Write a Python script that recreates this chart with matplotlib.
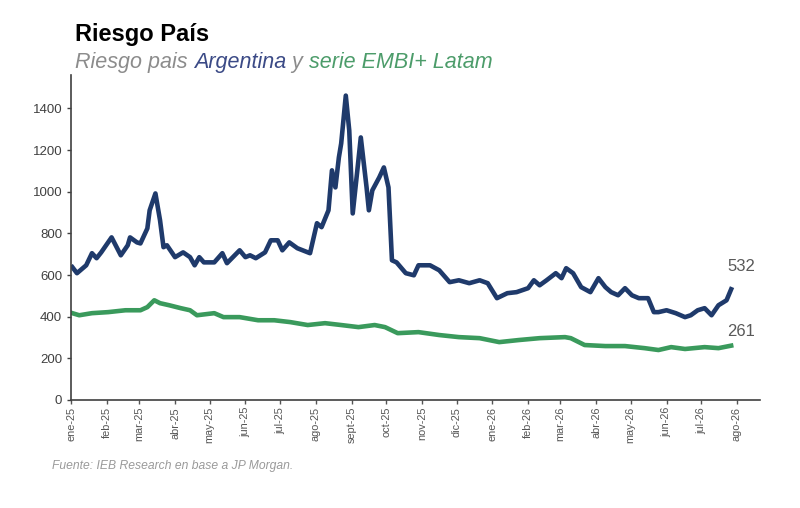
import matplotlib
matplotlib.use('Agg')
import matplotlib.pyplot as plt
import pandas as pd

# ── DATA ──────────────────────────────────────────────────────────────────────
ARG_DATES = [
    "2025-01-02", "2025-01-06", "2025-01-14", "2025-01-19", "2025-01-23", "2025-01-27",
    "2025-02-05", "2025-02-13", "2025-02-19", "2025-02-21", "2025-02-27", "2025-03-02",
    "2025-03-08", "2025-03-10", "2025-03-15", "2025-03-19", "2025-03-22", "2025-03-25",
    "2025-04-01", "2025-04-08", "2025-04-14", "2025-04-18", "2025-04-22", "2025-04-26",
    "2025-05-05", "2025-05-12", "2025-05-16", "2025-05-27", "2025-06-01", "2025-06-05",
    "2025-06-10", "2025-06-18", "2025-06-23", "2025-06-29", "2025-07-03", "2025-07-09",
    "2025-07-16", "2025-07-27", "2025-08-02", "2025-08-06", "2025-08-12", "2025-08-15",
    "2025-08-18", "2025-08-21", "2025-08-23", "2025-08-27", "2025-08-30", "2025-09-02",
    "2025-09-06", "2025-09-09", "2025-09-14", "2025-09-16", "2025-09-19", "2025-09-25",
    "2025-09-29", "2025-10-03", "2025-10-06", "2025-10-10", "2025-10-18", "2025-10-25",
    "2025-10-29", "2025-11-08", "2025-11-16", "2025-11-25", "2025-12-03", "2025-12-12",
    "2025-12-21", "2025-12-28", "2026-01-05", "2026-01-14", "2026-01-22", "2026-02-01",
    "2026-02-06", "2026-02-11", "2026-02-17", "2026-02-25", "2026-03-02", "2026-03-06",
    "2026-03-12", "2026-03-19", "2026-03-27", "2026-04-03", "2026-04-09", "2026-04-14",
    "2026-04-20", "2026-04-26", "2026-05-02", "2026-05-08", "2026-05-16", "2026-05-21",
    "2026-05-25", "2026-06-01", "2026-06-09", "2026-06-17", "2026-06-22", "2026-06-28",
    "2026-07-04", "2026-07-10", "2026-07-16", "2026-07-23", "2026-07-27",
]
ARG_VALUES = [
    638, 609, 647, 705, 681, 709,
    781, 695, 743, 781, 757, 752,
    824, 911, 992, 863, 734, 743,
    686, 709, 686, 647, 686, 661,
    661, 705, 657, 719, 686, 695,
    681, 709, 767, 767, 719, 757,
    729, 705, 849, 830, 911, 1103,
    1021, 1165, 1232, 1462, 1294, 896,
    1103, 1261, 1021, 911, 1007, 1069,
    1117, 1021, 671, 661, 609, 599,
    647, 647, 623, 566, 575, 561,
    575, 561, 489, 513, 518, 537,
    575, 551, 575, 609, 585, 633,
    609, 542, 518, 585, 542, 518,
    503, 537, 503, 489, 489, 422,
    422, 431, 417, 398, 407, 431,
    441, 407, 455, 479, 532,
]

EMBI_DATES = [
    "2025-01-02", "2025-01-08", "2025-01-19", "2025-02-02", "2025-02-17", "2025-03-02",
    "2025-03-08", "2025-03-14", "2025-03-19", "2025-03-27", "2025-04-06", "2025-04-14",
    "2025-04-20", "2025-05-05", "2025-05-13", "2025-05-27", "2025-06-12", "2025-06-26",
    "2025-07-10", "2025-07-25", "2025-08-09", "2025-08-23", "2025-09-07", "2025-09-21",
    "2025-09-30", "2025-10-11", "2025-10-29", "2025-11-16", "2025-12-03", "2025-12-21",
    "2026-01-07", "2026-01-24", "2026-02-11", "2026-03-05", "2026-03-10", "2026-03-22",
    "2026-04-09", "2026-04-26", "2026-05-13", "2026-05-25", "2026-06-05", "2026-06-17",
    "2026-07-04", "2026-07-16", "2026-07-27",
]
EMBI_VALUES = [
    417, 407, 417, 422, 431, 431,
    446, 479, 465, 455, 441, 431,
    407, 417, 398, 398, 383, 383,
    374, 360, 369, 360, 350, 360,
    350, 321, 326, 312, 302, 297,
    278, 288, 297, 302, 297, 264,
    259, 259, 249, 240, 254, 245,
    254, 249, 261,
]

MONTH_LABELS = [
    "ene-25", "feb-25", "mar-25", "abr-25", "may-25", "jun-25", "jul-25",
    "ago-25", "sept-25", "oct-25", "nov-25", "dic-25", "ene-26", "feb-26",
    "mar-26", "abr-26", "may-26", "jun-26", "jul-26", "ago-26",
]

# ── STYLE ─────────────────────────────────────────────────────────────────────
NAVY = "#1f3a6b"
GREEN = "#3a9a5c"
GREY_TXT = "#595959"

plt.rcParams['font.family'] = ['Liberation Sans', 'DejaVu Sans']

fig = plt.figure(figsize=(8, 5.08), dpi=100)
ax = fig.add_axes([0.089, 0.2126, 0.861, 0.6394])

arg_x = pd.to_datetime(ARG_DATES)
embi_x = pd.to_datetime(EMBI_DATES)

ax.plot(embi_x, EMBI_VALUES, color=GREEN, linewidth=3.3, solid_joinstyle="round")
ax.plot(arg_x, ARG_VALUES, color=NAVY, linewidth=3.3, solid_joinstyle="round")

# end-of-series labels
ax.annotate(f"{ARG_VALUES[-1]}", (arg_x[-1], ARG_VALUES[-1]), xytext=(-3, 11),
            textcoords="offset points", fontsize=12, color=GREY_TXT, va="bottom")
ax.annotate(f"{EMBI_VALUES[-1]}", (embi_x[-1], EMBI_VALUES[-1]), xytext=(-3, 5),
            textcoords="offset points", fontsize=12, color=GREY_TXT, va="bottom")

ax.set_ylim(0, 1560)
ax.set_yticks(range(0, 1401, 200))
ax.set_xlim(pd.Timestamp("2025-01-01"), pd.Timestamp("2026-08-21"))
month_ticks = pd.date_range("2025-01-01", periods=len(MONTH_LABELS), freq="MS")
ax.set_xticks(month_ticks)
ax.set_xticklabels(MONTH_LABELS, rotation=90)

ax.tick_params(axis="y", labelsize=9.5, colors="#404040", length=3, width=1)
ax.tick_params(axis="x", labelsize=7.8, colors="#555555", length=3, width=1, pad=2)
ax.spines[["top", "right"]].set_visible(False)
for sp in ("left", "bottom"):
    ax.spines[sp].set_color("#404040")
    ax.spines[sp].set_linewidth(1.2)

# ── TITLES ────────────────────────────────────────────────────────────────────
fig.text(0.094, 0.932, "Riesgo País", fontsize=17, fontweight="bold",
         color="black", va="center")

parts = [("Riesgo pais ", "#8c8c8c"), ("Argentina", "#3b4a86"),
         (" y ", "#8c8c8c"), ("serie EMBI+ Latam", "#4c9c6a")]
renderer = fig.canvas.get_renderer()
x0 = 0.094
for txt, col in parts:
    t = fig.text(x0, 0.877, txt, fontsize=15.5, style="italic", color=col, va="center")
    bb = t.get_window_extent(renderer=renderer)
    x0 += bb.width / fig.bbox.width

fig.text(0.065, 0.082, "Fuente: IEB Research en base a JP Morgan.", fontsize=8.7,
         style="italic", color="#9a9a9a", va="center")

fig.savefig("out.png", dpi=100)
